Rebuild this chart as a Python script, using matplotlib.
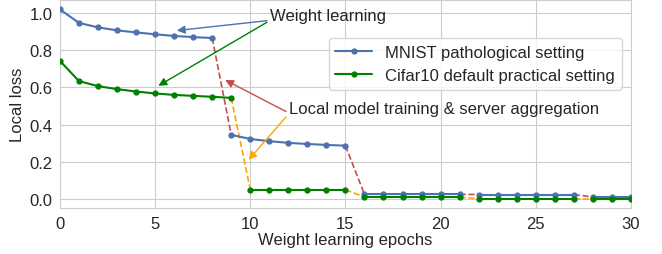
import numpy as np
import matplotlib
matplotlib.use('Agg')
import matplotlib.pyplot as plt
import seaborn as sns

sns.set_style('whitegrid')
plt.rcParams['font.family'] = ['Liberation Sans', 'DejaVu Sans']

# data
epochs = list(range(31))
mnist_loss = [1.018, 0.946, 0.922, 0.906, 0.895, 0.885, 0.876, 0.870, 0.865,
              0.346, 0.324, 0.312, 0.303, 0.297, 0.292, 0.288,
              0.027, 0.027, 0.027, 0.027, 0.027, 0.027,
              0.026, 0.026, 0.026, 0.026, 0.026, 0.026,
              0.013, 0.013, 0.013]
cifar_loss = [0.742, 0.634, 0.607, 0.591, 0.578, 0.568, 0.560, 0.555, 0.550, 0.544,
              0.052, 0.052, 0.052, 0.052, 0.052, 0.052,
              0.012, 0.012, 0.012, 0.012, 0.012, 0.012,
              0.004, 0.004, 0.004, 0.004, 0.004, 0.004,
              0.004, 0.004, 0.004]
# first epoch of each new segment (after model training & aggregation)
mnist_breaks = [9, 16, 22, 28]
cifar_breaks = [10, 16, 22, 28]

series = [
    ('MNIST pathological setting', mnist_loss, mnist_breaks, '#4c72b0', '#c44e52'),
    ('Cifar10 default practical setting', cifar_loss, cifar_breaks, 'green', 'orange'),
]

fs = 12
fig, ax = plt.subplots(figsize=(6.62, 2.55), dpi=100)
fig.subplots_adjust(left=0.0906, right=0.953, top=0.996, bottom=0.18)

x = np.array(epochs)
for label, loss, breaks, col, dcol in series:
    y = np.array(loss)
    bounds = [0] + breaks + [len(x)]
    for i in range(len(bounds) - 1):
        a, b = bounds[i], bounds[i + 1]
        ax.plot(x[a:b], y[a:b], '-o', color=col, lw=1.5, ms=3.5,
                label=label if i == 0 else None, zorder=3)
    for br in breaks:
        ax.plot(x[br - 1:br + 1], y[br - 1:br + 1], '--', color=dcol, lw=1.2, zorder=2)

ax.set_xlim(0, 30)
ax.set_xticks([0, 5, 10, 15, 20, 25, 30])
ax.set_yticks([0.0, 0.2, 0.4, 0.6, 0.8, 1.0])
ax.tick_params(labelsize=fs, pad=2)
ax.set_xlabel('Weight learning epochs', fontsize=fs, labelpad=1)
ax.set_ylabel('Local loss', fontsize=fs, labelpad=3)

ax.legend(loc='upper right', bbox_to_anchor=(0.984, 0.817), borderaxespad=0,
          fontsize=fs, frameon=True, handlelength=2.2)

# annotations
ax.annotate('Weight learning', xy=(6.14, 0.905), xytext=(11.05, 0.984),
            fontsize=fs, va='center', ha='left',
            arrowprops=dict(arrowstyle='-|>', color='#4c72b0', lw=1,
                            relpos=(0, 0.2), shrinkA=0, shrinkB=0))
ax.annotate('Weight learning', xy=(5.17, 0.609), xytext=(11.05, 0.984),
            fontsize=fs, va='center', ha='left', alpha=0,
            arrowprops=dict(arrowstyle='-|>', color='green', lw=1,
                            relpos=(0, 0.2), shrinkA=0, shrinkB=0))
ax.annotate('Local model training & server aggregation', xy=(8.68, 0.64),
            xytext=(12.05, 0.486), fontsize=fs, va='center', ha='left',
            arrowprops=dict(arrowstyle='-|>', color='#c44e52', lw=1,
                            relpos=(0, 0.2), shrinkA=0, shrinkB=0))
ax.annotate('Local model training & server aggregation', xy=(9.91, 0.212),
            xytext=(12.05, 0.486), fontsize=fs, va='center', ha='left', alpha=0,
            arrowprops=dict(arrowstyle='-|>', color='orange', lw=1,
                            relpos=(0, 0.2), shrinkA=0, shrinkB=0))

plt.savefig('out.png', dpi=100)
